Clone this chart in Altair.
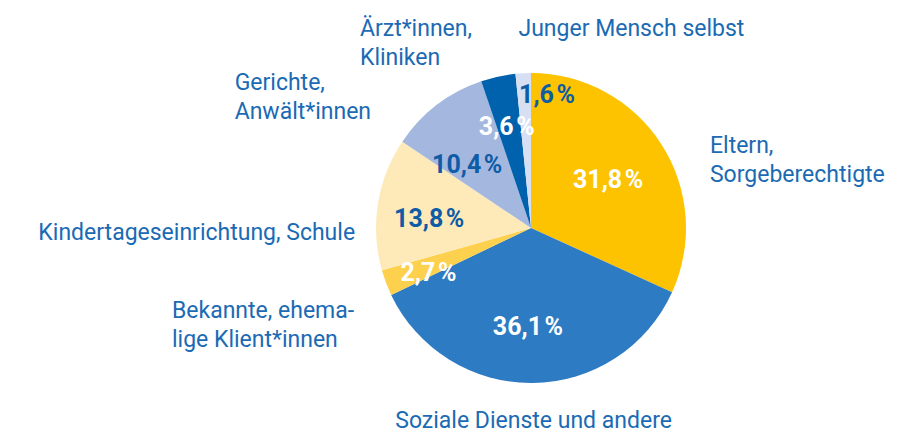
import altair as alt
import pandas as pd

categories = ["Eltern, Sorgeberechtigte", "Soziale Dienste und andere",
              "Bekannte, ehemalige Klient*innen", "Kindertageseinrichtung, Schule",
              "Gerichte, Anwält*innen", "Ärzt*innen, Kliniken", "Junger Mensch selbst"]
values = [31.8, 36.1, 2.7, 13.8, 10.4, 3.6, 1.6]
pct_labels = ["31,8\u200a%", "36,1\u200a%", "2,7\u200a%", "13,8\u200a%", "10,4\u200a%", "3,6\u200a%", "1,6\u200a%"]
outer_labels = [["Eltern,", "Sorgeberechtigte"], ["Soziale Dienste und andere"],
                ["Bekannte, ehema-", "lige Klient*innen"], ["Kindertageseinrichtung, Schule"],
                ["Gerichte,", "Anwält*innen"], ["Ärzt*innen,", "Kliniken"], ["Junger Mensch selbst"]]
colors = ["#FDC300", "#2D7BC2", "#FDD04E", "#FEEAB9", "#A4B7DF", "#0062AD", "#D7E0F2"]
pct_colors = ["#FFFFFF", "#FFFFFF", "#FFFFFF", "#0E5BA6", "#0E5BA6", "#FFFFFF", "#0E5BA6"]

rows = []
cum = 0.0
for i, (c, v) in enumerate(zip(categories, values)):
    rows.append({"idx": i, "cat": c, "value": v, "mid": cum + v / 2,
                 "pct": pct_labels[i], "outer": outer_labels[i]})
    cum += v
df = pd.DataFrame(rows)

CX, CY = 523, 220
FONT = "Roboto"
TXT = "#1A6AB4"
theta_scale = alt.Scale(domain=[0, 100])

base = alt.Chart(df)

pie = base.mark_arc(stroke=None).encode(
    theta=alt.Theta("value:Q", stack=True, scale=theta_scale),
    color=alt.Color("cat:N", scale=alt.Scale(domain=categories, range=colors), legend=None),
    order=alt.Order("idx:Q"),
    x=alt.value(CX), y=alt.value(CY),
    radius=alt.value(155),
)

# inner percentage labels: (dx, dy) offsets relative to slice midpoint at radius 100
inner_off = [(-7, 14), (-4, 7), (-9, 18), (-3, 15), (-3, 24), (-3, 5), (21, -25)]
# outer labels: (align, dx, dy) relative to slice midpoint at radius 170
outer_off = [("left", 36, 17), ("center", 1, 30), ("left", -200, 30), ("right", -8, 39),
             ("left", -193, -3), ("left", -135, -26), ("left", -4, -22)]

layers = [pie]
for i, c in enumerate(categories):
    dx, dy = inner_off[i]
    layers.append(
        base.transform_filter(alt.datum.idx == i).mark_text(
            font=FONT, fontSize=25, fontWeight="bold", align="center",
            baseline="alphabetic", dx=dx, dy=dy, color=pct_colors[i]
        ).encode(
            theta=alt.Theta("mid:Q", stack=False, scale=theta_scale),
            radius=alt.value(100), x=alt.value(CX), y=alt.value(CY),
            text="pct:N",
        )
    )
    al, odx, ody = outer_off[i]
    layers.append(
        base.transform_filter(alt.datum.idx == i).mark_text(
            font=FONT, fontSize=23, align=al, baseline="alphabetic",
            lineHeight=29, dx=odx, dy=ody, color=TXT
        ).encode(
            theta=alt.Theta("mid:Q", stack=False, scale=theta_scale),
            radius=alt.value(170), x=alt.value(CX), y=alt.value(CY),
            text="outer",
        )
    )

chart = alt.layer(*layers).properties(
    width=893, height=425, padding=0, autosize=alt.AutoSizeParams(type="none")
).configure(background="white").configure_view(stroke=None, strokeWidth=0)

chart.save("out.html", embed_options={"renderer": "svg", "actions": False})
